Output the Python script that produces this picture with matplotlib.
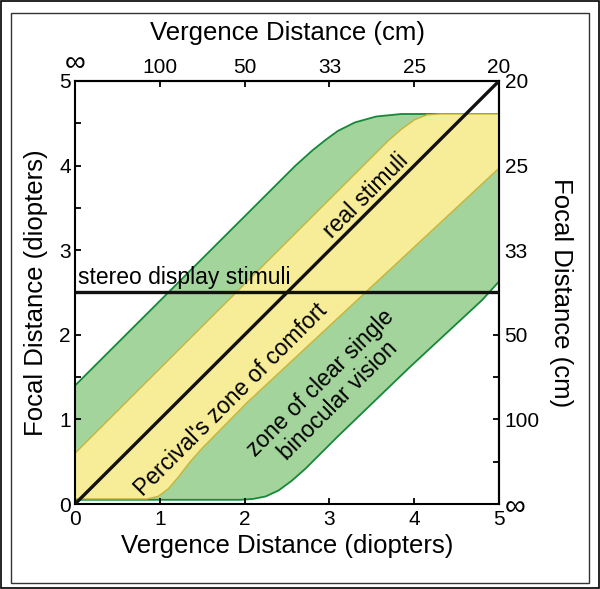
import matplotlib.pyplot as plt
from matplotlib.patches import Rectangle

# диоптрии и соответствующие расстояния в см
diopters = [0, 1, 2, 3, 4, 5]
cm_labels = ['∞', '100', '50', '33', '25', '20']
half_steps = [0.5, 1.5, 2.5, 3.5, 4.5]

# зона ясного бинокулярного зрения (контур, диоптрии)
csbv_x = [0, 2.6, 2.8, 2.95, 3.1, 3.3, 3.55, 3.85, 5,
          5, 4.8, 3.95, 3.1, 2.9, 2.72, 2.55, 2.4, 2.25, 2.1, 1.95, 0]
csbv_y = [1.40, 4.0, 4.18, 4.30, 4.41, 4.51, 4.58, 4.61, 4.61,
          2.63, 2.41, 1.62, 0.80, 0.60, 0.42, 0.27, 0.16, 0.09, 0.06, 0.05, 0.05]

# зона комфорта Персиваля
perc_x = [0, 3.7, 3.85, 4.0, 4.15, 4.3, 5,
          5, 2.03, 1.5, 1.35, 1.22, 1.1, 0.98, 0.85, 0]
perc_y = [0.60, 4.30, 4.43, 4.54, 4.60, 4.61, 4.61,
          3.97, 1.2, 0.66, 0.49, 0.32, 0.18, 0.09, 0.06, 0.06]

# реальные стимулы и стереодисплей
real_x = [0, 5]
real_y = [0, 5]
stereo_x = [0, 5]
stereo_y = [2.5, 2.5]

GREEN_FILL = '#a3d49b'
GREEN_EDGE = '#17873a'
YELLOW_FILL = '#f7ec98'
YELLOW_EDGE = '#c8b43a'

plt.rcParams['font.family'] = ['Liberation Sans', 'DejaVu Sans']

fig = plt.figure(figsize=(6, 5.89), dpi=100)
ax = fig.add_axes([0.125, 0.1443, 0.7067, 0.7182])

ax.fill(csbv_x, csbv_y, facecolor=GREEN_FILL, edgecolor=GREEN_EDGE, lw=1.3, zorder=1)
ax.fill(perc_x, perc_y, facecolor=YELLOW_FILL, edgecolor=YELLOW_EDGE, lw=1.0, zorder=2)
ax.plot(real_x, real_y, color='#111111', lw=2.4, zorder=3, solid_capstyle='butt')
ax.plot(stereo_x, stereo_y, color='#111111', lw=2.4, zorder=3, solid_capstyle='butt')

ax.set_xlim(0, 5)
ax.set_ylim(0, 5)

fs_tick = 15
ax.set_xticks(diopters)
ax.set_xticklabels([str(d) for d in diopters], fontsize=fs_tick)
ax.set_yticks(diopters)
ax.set_yticklabels([str(d) for d in diopters], fontsize=fs_tick)
ax.set_yticks(half_steps, minor=True)
ax.tick_params(which='both', direction='in', length=4, width=1.3, pad=3)
ax.tick_params(axis='x', pad=4)

# верхняя ось: см
top = ax.secondary_xaxis('top')
top.set_xticks(diopters)
top.set_xticklabels(cm_labels, fontsize=fs_tick)
top.tick_params(direction='in', length=4, width=1.3, pad=3)
top.set_xlabel('Vergence Distance (cm)', fontsize=18.5, labelpad=6)

# правая ось: см
right = ax.secondary_yaxis('right')
right.set_yticks(diopters)
right.set_yticklabels(cm_labels, fontsize=fs_tick)
right.set_yticks(half_steps, minor=True)
right.tick_params(which='both', direction='in', length=4, width=1.3, pad=4)
right.set_ylabel('Focal Distance (cm)', fontsize=18.5, rotation=270, labelpad=24)

for lbl in top.get_xticklabels() + right.get_yticklabels():
    if lbl.get_text() == '∞':
        lbl.set_fontsize(21)

ax.set_xlabel('Vergence Distance (diopters)', fontsize=18.5, labelpad=4)
ax.set_ylabel('Focal Distance (diopters)', fontsize=18.5, labelpad=8)

for sp in list(ax.spines.values()) + [top.spines['top'], right.spines['right']]:
    sp.set_linewidth(1.5)

ax.text(0.04, 2.6, 'stereo display stimuli', fontsize=16.5, ha='left', va='baseline', zorder=4)
ax.text(3.43, 3.64, 'real stimuli', fontsize=16.5, rotation=45, rotation_mode='anchor',
        ha='center', va='center', zorder=4)
ax.text(1.84, 1.23, "Percival's zone of comfort", fontsize=16.5, rotation=45,
        rotation_mode='anchor', ha='center', va='center', zorder=4)
ax.text(3.0, 1.33, 'zone of clear single\nbinocular vision', fontsize=16.5, rotation=45,
        rotation_mode='anchor', ha='center', va='center', multialignment='center',
        linespacing=1.1, zorder=4)

# рамки вокруг рисунка
fig.patches.append(Rectangle((0.002, 0.002), 0.996, 0.996, transform=fig.transFigure,
                             fill=False, edgecolor='black', lw=1.2))
fig.patches.append(Rectangle((11 / 600, 1 - 583 / 589), 578 / 600, 570 / 589,
                             transform=fig.transFigure, fill=False,
                             edgecolor='#333333', lw=1.0))

fig.savefig('out.png', dpi=100)
